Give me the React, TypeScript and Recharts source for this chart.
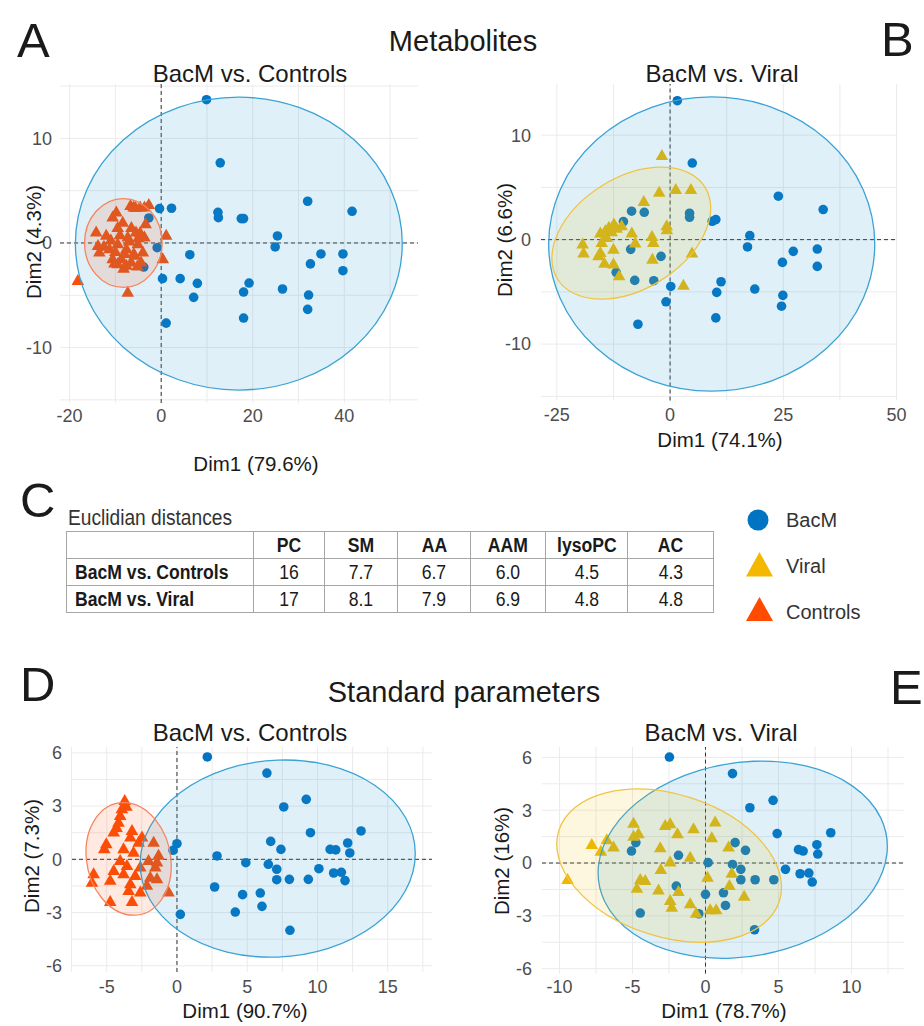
import React from 'react';
import { ScatterChart, Scatter, XAxis, YAxis, CartesianGrid, ReferenceLine } from 'recharts';

type P = { x: number; y: number };

// ---------- Panel A : Metabolites, BacM vs. Controls ----------
const aBacM: P[] = [
  { x: 9.9, y: 13.7 }, { x: 12.9, y: 7.66 }, { x: -0.36, y: 3.29 }, { x: 2.26, y: 3.32 }, { x: -2.7, y: 2.39 },
  { x: 12.4, y: 2.93 }, { x: 12.5, y: 2.42 }, { x: 17.5, y: 2.33 }, { x: 18.0, y: 2.33 }, { x: 32.0, y: 3.99 },
  { x: 41.7, y: 3.03 }, { x: 25.4, y: 0.67 }, { x: 24.9, y: -0.38 }, { x: -0.87, y: -0.45 }, { x: 6.26, y: -1.12 },
  { x: 34.9, y: -1.05 }, { x: 39.7, y: -1.05 }, { x: 32.6, y: -2.0 }, { x: 39.7, y: -2.65 }, { x: -3.8, y: -2.3 },
  { x: 0.29, y: -3.41 }, { x: 4.15, y: -3.41 }, { x: 7.9, y: -3.86 }, { x: 19.2, y: -3.83 }, { x: 18.0, y: -4.69 },
  { x: 26.5, y: -4.4 }, { x: 7.1, y: -5.2 }, { x: 32.2, y: -4.98 }, { x: 32.0, y: -6.35 }, { x: 1.09, y: -7.66 },
  { x: 18.0, y: -7.18 },
];
const aControls: P[] = [
  { x: -6.7, y: 3.6 }, { x: -6.0, y: 3.45 }, { x: -5.6, y: 3.39 }, { x: -4.6, y: 3.45 }, { x: -3.65, y: 3.45 },
  { x: -2.7, y: 3.7 }, { x: -9.8, y: 2.97 }, { x: -10.6, y: 2.49 }, { x: -8.4, y: 2.0 }, { x: -14.2, y: 1.05 },
  { x: -3.4, y: 1.85 }, { x: 1.1, y: 0.74 }, { x: -12.0, y: 0.74 }, { x: -5.5, y: 1.05 }, { x: -7.3, y: 0.57 },
  { x: -13.8, y: -0.22 }, { x: -13.5, y: -0.86 }, { x: -11.3, y: -0.54 }, { x: -9.5, y: -0.06 }, { x: -7.6, y: -0.54 },
  { x: -5.1, y: -0.06 }, { x: -3.65, y: 0.57 }, { x: -4.0, y: -0.86 }, { x: -8.7, y: -1.49 }, { x: -9.5, y: -1.97 },
  { x: -7.6, y: -2.13 }, { x: -6.55, y: -1.81 }, { x: -4.4, y: -1.81 }, { x: -5.8, y: -1.17 }, { x: -10.6, y: -1.49 },
  { x: 0.35, y: -1.49 }, { x: -18.2, y: -3.57 }, { x: -7.3, y: -4.69 }, { x: -11.0, y: 0.3 }, { x: -10.0, y: -0.8 },
  { x: -9.0, y: 0.8 }, { x: -8.0, y: -1.0 }, { x: -7.0, y: 0.2 }, { x: -6.0, y: -1.0 }, { x: -5.0, y: 0.5 },
  { x: -9.5, y: 1.5 }, { x: -6.5, y: 1.5 }, { x: -12.5, y: -0.3 }, { x: -10.2, y: -1.9 }, { x: -8.2, y: -2.4 },
  { x: -5.2, y: -2.2 }, { x: -4.6, y: 1.0 },
];
// ellipse = [centre, end of first semi-axis, end of second semi-axis]
const aEllBacM: P[] = [{ x: 16.96, y: -0.06 }, { x: 52.66, y: -0.06 }, { x: 16.96, y: 13.94 }];
const aEllControls: P[] = [{ x: -8.26, y: 0 }, { x: 0.22, y: 0 }, { x: -8.26, y: 4.25 }];

// ---------- Panel B : Metabolites, BacM vs. Viral ----------
const bBacM: P[] = [
  { x: 1.6, y: 13.3 }, { x: 4.9, y: 7.33 }, { x: 23.9, y: 4.16 }, { x: 33.8, y: 2.88 }, { x: -8.5, y: 2.72 },
  { x: -5.7, y: 2.62 }, { x: 4.3, y: 2.53 }, { x: 4.3, y: 2.14 }, { x: 9.3, y: 1.76 }, { x: 10.1, y: 1.92 },
  { x: -10.3, y: 1.73 }, { x: 17.6, y: 0.38 }, { x: 17.1, y: -0.7 }, { x: 27.2, y: -1.12 }, { x: 32.5, y: -0.9 },
  { x: 24.8, y: -2.18 }, { x: 32.5, y: -2.56 }, { x: -8.7, y: -0.93 }, { x: -2.0, y: -1.6 }, { x: -11.9, y: -3.13 },
  { x: -7.8, y: -3.9 }, { x: -3.6, y: -3.93 }, { x: 0.15, y: -4.48 }, { x: 11.25, y: -4.03 }, { x: 10.3, y: -5.05 },
  { x: 18.7, y: -4.73 }, { x: 24.9, y: -5.34 }, { x: 24.6, y: -6.37 }, { x: -0.9, y: -5.95 }, { x: -7.1, y: -8.1 },
  { x: 10.1, y: -7.49 },
];
const bViral: P[] = [
  { x: -1.8, y: 8.06 }, { x: -2.4, y: 4.54 }, { x: 1.25, y: 4.8 }, { x: 4.6, y: 4.8 }, { x: -5.8, y: 3.65 },
  { x: -0.74, y: 1.34 }, { x: -0.7, y: 0.96 }, { x: -12.4, y: 1.5 }, { x: -10.7, y: 1.34 }, { x: -14.3, y: 0.86 },
  { x: -15.4, y: 0.64 }, { x: -12.9, y: 0.77 }, { x: -8.45, y: 0.64 }, { x: -4.0, y: 0.32 }, { x: -3.7, y: -0.26 },
  { x: -7.7, y: -0.32 }, { x: -19.3, y: -0.41 }, { x: -19.1, y: -1.28 }, { x: -15.1, y: -0.26 }, { x: -15.4, y: -1.22 },
  { x: -12.5, y: -0.9 }, { x: -15.8, y: -1.54 }, { x: -14.5, y: -2.24 }, { x: -12.5, y: -2.33 }, { x: -11.25, y: -3.45 },
  { x: -3.9, y: -1.86 }, { x: 4.85, y: -1.28 }, { x: 2.95, y: -4.35 }, { x: -14.0, y: 0.22 }, { x: -11.8, y: 1.1 },
  { x: -13.5, y: 1.2 },
];
const bEllBacM: P[] = [{ x: 9.19, y: -0.42 }, { x: 45.19, y: -0.42 }, { x: 9.19, y: 13.66 }];
const bEllViral: P[] = [{ x: -8.57, y: 0.62 }, { x: 7.73, y: 5.01 }, { x: -15.03, y: 5.16 }];

// ---------- Panel D : Standard parameters, BacM vs. Controls ----------
const dBacM: P[] = [
  { x: 2.16, y: 5.77 }, { x: 6.4, y: 4.86 }, { x: 9.2, y: 3.38 }, { x: 7.6, y: 2.95 }, { x: 13.1, y: 1.6 },
  { x: 9.5, y: 1.5 }, { x: 6.67, y: 1.01 }, { x: 7.4, y: 0.56 }, { x: 12.15, y: 0.92 }, { x: 10.9, y: 0.56 },
  { x: 11.3, y: 0.53 }, { x: 12.3, y: 0.36 }, { x: 0.0, y: 0.88 }, { x: -0.28, y: 0.51 }, { x: 2.85, y: 0.19 },
  { x: 4.9, y: -0.19 }, { x: 6.5, y: -0.28 }, { x: 7.1, y: -0.56 }, { x: 10.1, y: -0.53 }, { x: 11.15, y: -0.77 },
  { x: 11.7, y: -0.73 }, { x: 7.1, y: -1.15 }, { x: 8.0, y: -1.13 }, { x: 9.35, y: -1.13 }, { x: 11.96, y: -1.2 },
  { x: 2.68, y: -1.56 }, { x: 4.67, y: -1.99 }, { x: 5.93, y: -1.9 }, { x: 6.05, y: -2.65 }, { x: 4.15, y: -2.97 },
  { x: 0.24, y: -3.1 }, { x: 8.04, y: -4.0 },
];
const dControls: P[] = [
  { x: -3.72, y: 3.32 }, { x: -3.92, y: 2.85 }, { x: -4.04, y: 2.48 }, { x: -4.16, y: 2.1 }, { x: -4.5, y: 1.54 },
  { x: -5.03, y: 0.88 }, { x: -5.17, y: 0.6 }, { x: -3.2, y: 1.63 }, { x: -3.32, y: 1.26 }, { x: -2.49, y: 1.26 },
  { x: -2.73, y: 0.97 }, { x: -1.66, y: 0.97 }, { x: -3.8, y: 0.6 }, { x: -3.09, y: 0.41 }, { x: -1.31, y: 0.23 },
  { x: -2.02, y: -0.06 }, { x: -4.04, y: -0.06 }, { x: -3.56, y: -0.34 }, { x: -2.61, y: -0.43 }, { x: -1.54, y: -0.43 },
  { x: -4.5, y: -0.62 }, { x: -5.93, y: -0.81 }, { x: -6.05, y: -1.28 }, { x: -3.8, y: -0.81 }, { x: -2.97, y: -0.9 },
  { x: -1.9, y: -1.0 }, { x: -1.42, y: -1.09 }, { x: -4.75, y: -1.18 }, { x: -3.32, y: -1.37 }, { x: -2.14, y: -1.46 },
  { x: -3.44, y: -1.75 }, { x: -2.61, y: -1.84 }, { x: -0.6, y: -1.84 }, { x: -4.75, y: -2.37 }, { x: -3.2, y: -2.37 },
  { x: -1.42, y: -0.15 }, { x: -4.3, y: 1.8 }, { x: -3.6, y: 3.0 },
];
const dEllBacM: P[] = [{ x: 7.17, y: 0.04 }, { x: 16.96, y: 0.32 }, { x: 7.17, y: 5.59 }];
const dEllControls: P[] = [{ x: -3.44, y: 0.02 }, { x: -0.43, y: 0.02 }, { x: -3.8, y: 3.19 }];

// ---------- Panel E : Standard parameters, BacM vs. Viral ----------
const eBacM: P[] = [
  { x: -2.47, y: 6.02 }, { x: 1.85, y: 5.08 }, { x: 4.63, y: 3.56 }, { x: 3.04, y: 3.14 }, { x: 8.58, y: 1.72 },
  { x: 4.91, y: 1.67 }, { x: 2.03, y: 1.16 }, { x: 2.74, y: 0.72 }, { x: 7.63, y: 1.04 }, { x: 6.37, y: 0.76 },
  { x: 6.69, y: 0.68 }, { x: 7.69, y: 0.51 }, { x: -4.77, y: 1.16 }, { x: -5.07, y: 0.68 }, { x: -1.85, y: 0.44 },
  { x: 0.18, y: 0.02 }, { x: 1.85, y: -0.08 }, { x: 2.42, y: -0.36 }, { x: 5.48, y: -0.36 }, { x: 6.48, y: -0.61 },
  { x: 7.08, y: -0.57 }, { x: 2.42, y: -0.95 }, { x: 3.4, y: -0.95 }, { x: 4.68, y: -0.95 }, { x: 7.31, y: -1.08 },
  { x: -2.0, y: -1.31 }, { x: 0.0, y: -1.78 }, { x: 1.23, y: -1.69 }, { x: 1.37, y: -2.41 }, { x: -0.46, y: -2.88 },
  { x: -4.47, y: -2.84 }, { x: 3.36, y: -3.79 },
];
const eViral: P[] = [
  { x: -4.93, y: 2.27 }, { x: -2.76, y: 2.14 }, { x: -2.42, y: 2.23 }, { x: 0.66, y: 2.33 }, { x: -0.82, y: 1.95 },
  { x: -1.92, y: 1.67 }, { x: -4.59, y: 1.67 }, { x: -4.93, y: 1.52 }, { x: 0.43, y: 1.44 }, { x: -7.79, y: 1.06 },
  { x: -6.76, y: 1.33 }, { x: -6.3, y: 0.91 }, { x: -7.17, y: 0.68 }, { x: -3.1, y: 0.87 }, { x: 1.58, y: 0.91 },
  { x: -1.05, y: 0.34 }, { x: -2.42, y: 0.06 }, { x: -3.06, y: -0.36 }, { x: -9.45, y: -0.93 }, { x: 0.14, y: -0.8 },
  { x: 1.8, y: -0.57 }, { x: -4.47, y: -0.93 }, { x: -4.13, y: -0.98 }, { x: -4.7, y: -1.42 }, { x: -3.22, y: -1.52 },
  { x: -1.85, y: -1.61 }, { x: 1.64, y: -1.27 }, { x: 2.65, y: -1.88 }, { x: -2.42, y: -2.12 }, { x: -2.31, y: -2.5 },
  { x: -1.05, y: -2.31 }, { x: -0.64, y: -2.84 }, { x: 0.32, y: -2.65 }, { x: 0.73, y: -2.65 },
];
const eEllBacM: P[] = [{ x: 2.55, y: 0.19 }, { x: 12.43, y: 0.53 }, { x: 3.28, y: 5.78 }];
const eEllViral: P[] = [{ x: -2.49, y: -0.15 }, { x: 5.06, y: -2.17 }, { x: -3.99, y: -4.0 }];

// ---------- Table C ----------
const tableColumns = ['PC', 'SM', 'AA', 'AAM', 'lysoPC', 'AC'];
const tableRows = ['BacM vs. Controls', 'BacM vs. Viral'];
const tableControls = ['16', '7.7', '6.7', '6.0', '4.5', '4.3'];
const tableViral = ['17', '8.1', '7.9', '6.9', '4.8', '4.8'];

// ---------- Legend ----------
const legendLabels = ['BacM', 'Viral', 'Controls'];

// ---------- Ticks ----------
const aXTicks = [-20, 0, 20, 40];
const aYTicks = [-10, 0, 10];
const bXTicks = [-25, 0, 25, 50];
const bYTicks = [-10, 0, 10];
const dXTicks = [-5, 0, 5, 10, 15];
const dYTicks = [-6, -3, 0, 3, 6];
const eXTicks = [-10, -5, 0, 5, 10];
const eYTicks = [-6, -3, 0, 3, 6];

const BLUE = '#0073C2';
const BLUE_LINE = '#3AA3D4';
const BLUE_FILL = '#2E9AD0';
const YELLOW = '#EDB800';
const YELLOW_LINE = '#F0C443';
const YELLOW_FILL = '#EFC000';
const ORANGE = '#FC4E07';
const ORANGE_LINE = '#F7845E';
const ORANGE_FILL = '#FC4E07';

const FONT = "'Liberation Sans', Arial, Helvetica, sans-serif";

const YW = 50;
const XH = 32;
const MT = 14;
const MR = 22;

const circleShape = (color: string) => (p: any) => (
  <circle cx={p.cx} cy={p.cy} r={4.8} fill={color} />
);
const triShape = (color: string) => (p: any) => {
  const cx = p.cx, cy = p.cy;
  return <path d={`M${cx},${cy - 6.4}L${cx + 6.3},${cy + 4.6}L${cx - 6.3},${cy + 4.6}Z`} fill={color} />;
};
const noShape = () => <g />;

function ellipseLine(stroke: string, fill: string, fillOpacity: number) {
  return (props: any) => {
    const pts = props.points as { x: number; y: number }[];
    if (!pts || pts.length < 3) return <g />;
    const [c, u, v] = pts;
    return (
      <circle
        cx={0}
        cy={0}
        r={1}
        transform={`matrix(${u.x - c.x} ${u.y - c.y} ${v.x - c.x} ${v.y - c.y} ${c.x} ${c.y})`}
        fill={fill}
        fillOpacity={fillOpacity}
        stroke={stroke}
        strokeWidth={1.3}
        vectorEffect="non-scaling-stroke"
      />
    );
  };
}

type PanelProps = {
  left: number; top: number; w: number; h: number;
  xDomain: [number, number]; yDomain: [number, number];
  xTicks: number[]; yTicks: number[]; xGrid: number[]; yGrid: number[];
  xGap: number; yGap: number;
  bacm: P[]; other: P[]; otherColor: string;
  ellBacm: P[]; ellOther: P[]; otherLine: string; otherFill: string;
};

function Panel(pp: PanelProps) {
  const W = pp.w + YW + MR;
  const H = pp.h + XH + MT;
  const tick = { fill: '#4D4D4D', fontSize: 18, fontFamily: FONT };
  return (
    <div style={{ position: 'absolute', left: pp.left - YW, top: pp.top - MT, width: W, height: H }}>
      <ScatterChart width={W} height={H} margin={{ top: MT, right: MR, bottom: 0, left: 0 }}>
        <CartesianGrid stroke="#EBEBEB" strokeWidth={1} horizontalValues={pp.yGrid} verticalValues={pp.xGrid} />
        <XAxis
          type="number" dataKey="x" domain={pp.xDomain} ticks={pp.xTicks} allowDataOverflow interval={0}
          axisLine={false} tickLine={false} tickSize={0} tickMargin={pp.xGap} height={XH} tick={tick}
        />
        <YAxis
          type="number" dataKey="y" domain={pp.yDomain} ticks={pp.yTicks} allowDataOverflow interval={0}
          axisLine={false} tickLine={false} tickSize={0} tickMargin={pp.yGap} width={YW} tick={tick}
        />
        <ReferenceLine x={0} stroke="#333333" strokeWidth={1} strokeDasharray="4 3" />
        <ReferenceLine y={0} stroke="#333333" strokeWidth={1} strokeDasharray="4 3" />
        <Scatter data={pp.bacm} shape={circleShape(BLUE)} isAnimationActive={false} />
        <Scatter data={pp.other} shape={triShape(pp.otherColor)} isAnimationActive={false} />
        <Scatter data={pp.ellBacm} shape={noShape} line={ellipseLine(BLUE_LINE, BLUE_FILL, 0.15)} isAnimationActive={false} />
        <Scatter data={pp.ellOther} shape={noShape} line={ellipseLine(pp.otherLine, pp.otherFill, 0.12)} isAnimationActive={false} />
      </ScatterChart>
    </div>
  );
}

function Overlay() {
  const big = { fontFamily: FONT, fontSize: 49, fill: '#1A1A1A' };
  const section = { fontFamily: FONT, fontSize: 29, fill: '#1A1A1A' };
  const sub = { fontFamily: FONT, fontSize: 24, fill: '#1A1A1A' };
  const axis = { fontFamily: FONT, fontSize: 20.5, fill: '#1A1A1A' };
  const leg = { fontFamily: FONT, fontSize: 20, fill: '#333333' };
  return (
    <svg width={924} height={1026} style={{ position: 'absolute', left: 0, top: 0, pointerEvents: 'none' }}>
      <text x={17} y={57} {...big}>A</text>
      <text x={881} y={56} {...big}>B</text>
      <text x={20} y={517} {...big}>C</text>
      <text x={20} y={701} {...big}>D</text>
      <text x={890} y={704} {...big}>E</text>

      <text x={463} y={51} textAnchor="middle" {...section}>Metabolites</text>
      <text x={464} y={702} textAnchor="middle" {...section}>Standard parameters</text>

      <text x={250} y={82} textAnchor="middle" {...sub}>BacM vs. Controls</text>
      <text x={722} y={82} textAnchor="middle" {...sub}>BacM vs. Viral</text>
      <text x={250} y={741} textAnchor="middle" {...sub}>BacM vs. Controls</text>
      <text x={721} y={741} textAnchor="middle" {...sub}>BacM vs. Viral</text>

      <text x={256} y={471} textAnchor="middle" {...axis}>Dim1 (79.6%)</text>
      <text x={720} y={447} textAnchor="middle" {...axis}>Dim1 (74.1%)</text>
      <text x={245} y={1018} textAnchor="middle" {...axis}>Dim1 (90.7%)</text>
      <text x={724} y={1018} textAnchor="middle" {...axis}>Dim1 (78.7%)</text>
      <text transform="translate(41,242) rotate(-90)" textAnchor="middle" {...axis}>Dim2 (4.3%)</text>
      <text transform="translate(512,240) rotate(-90)" textAnchor="middle" {...axis}>Dim2 (6.6%)</text>
      <text transform="translate(39,856) rotate(-90)" textAnchor="middle" {...axis}>Dim2 (7.3%)</text>
      <text transform="translate(509,861) rotate(-90)" textAnchor="middle" {...axis}>Dim2 (16%)</text>

      <text x={68} y={525} fontFamily={FONT} fontSize={22} fill="#333333" textLength={164} lengthAdjust="spacingAndGlyphs">Euclidian distances</text>

      <circle cx={758} cy={520} r={10.5} fill={BLUE} />
      <path d="M759.5,552L773,576.5L746,576.5Z" fill="#F5B800" />
      <path d="M759.5,597L773,621L746,621Z" fill="#FF4B00" />
      <text x={786} y={527} {...leg}>{legendLabels[0]}</text>
      <text x={786} y={573} {...leg}>{legendLabels[1]}</text>
      <text x={786} y={619} {...leg}>{legendLabels[2]}</text>
    </svg>
  );
}

function Cond({ children, origin }: { children: React.ReactNode; origin: string }) {
  return (
    <span style={{ display: 'inline-block', transform: 'scaleX(0.88)', transformOrigin: origin, whiteSpace: 'nowrap' }}>
      {children}
    </span>
  );
}

function DistTable() {
  const colW = [187, 71, 73, 73, 75, 82, 86];
  const cell: React.CSSProperties = {
    border: '1px solid #A6A6A6', height: 26, padding: 0, textAlign: 'center', whiteSpace: 'nowrap',
    fontFamily: FONT, fontSize: 20, color: '#1A1A1A', lineHeight: '26px', overflow: 'hidden',
  };
  const rows = [tableControls, tableViral];
  return (
    <table style={{ position: 'absolute', left: 66, top: 531, width: 647, borderCollapse: 'collapse', tableLayout: 'fixed' }}>
      <colgroup>
        {colW.map((w, i) => <col key={i} style={{ width: w }} />)}
      </colgroup>
      <tbody>
        <tr>
          <td style={cell}></td>
          {tableColumns.map((c) => (
            <td key={c} style={{ ...cell, fontWeight: 700 }}><Cond origin="center">{c}</Cond></td>
          ))}
        </tr>
        {tableRows.map((r, ri) => (
          <tr key={r}>
            <td style={{ ...cell, fontWeight: 700, textAlign: 'left', paddingLeft: 8 }}><Cond origin="left">{r}</Cond></td>
            {rows[ri].map((v, ci) => <td key={ci} style={cell}><Cond origin="center">{v}</Cond></td>)}
          </tr>
        ))}
      </tbody>
    </table>
  );
}

export default function App() {
  return (
    <div style={{ position: 'absolute', left: 0, top: 0, width: 924, height: 1026, background: '#FFFFFF', overflow: 'hidden' }}>
      <Panel
        left={60} top={84} w={358} h={319}
        xDomain={[-22.1, 56.1]} yDomain={[-15.3, 15.2]}
        xTicks={aXTicks} yTicks={aYTicks}
        xGrid={[-20, -10, 0, 10, 20, 30, 40, 50]} yGrid={[-15, -10, -5, 0, 5, 10, 15]}
        xGap={6} yGap={8}
        bacm={aBacM} other={aControls} otherColor={ORANGE}
        ellBacm={aEllBacM} ellOther={aEllControls} otherLine={ORANGE_LINE} otherFill={ORANGE_FILL}
      />
      <Panel
        left={541} top={84} w={356} h={316.5}
        xDomain={[-28.5, 50.1]} yDomain={[-15.4, 14.9]}
        xTicks={bXTicks} yTicks={bYTicks}
        xGrid={[-25, -12.5, 0, 12.5, 25, 37.5, 50]} yGrid={[-15, -10, -5, 0, 5, 10]}
        xGap={8} yGap={10}
        bacm={bBacM} other={bViral} otherColor={YELLOW}
        ellBacm={bEllBacM} ellOther={bEllViral} otherLine={YELLOW_LINE} otherFill={YELLOW_FILL}
      />
      <Panel
        left={71.7} top={746.7} w={360} h={225}
        xDomain={[-7.47, 18.15]} yDomain={[-6.35, 6.33]}
        xTicks={dXTicks} yTicks={dYTicks}
        xGrid={[-7.5, -5, -2.5, 0, 2.5, 5, 7.5, 10, 12.5, 15, 17.5]} yGrid={[-6, -4.5, -3, -1.5, 0, 1.5, 3, 4.5, 6]}
        xGap={8} yGap={10}
        bacm={dBacM} other={dControls} otherColor={ORANGE}
        ellBacm={dEllBacM} ellOther={dEllControls} otherLine={ORANGE_LINE} otherFill={ORANGE_FILL}
      />
      <Panel
        left={541.7} top={746.7} w={361.6} h={226.6}
        xDomain={[-11.2, 13.57]} yDomain={[-6.28, 6.59]}
        xTicks={eXTicks} yTicks={eYTicks}
        xGrid={[-10, -7.5, -5, -2.5, 0, 2.5, 5, 7.5, 10, 12.5]} yGrid={[-6, -4.5, -3, -1.5, 0, 1.5, 3, 4.5, 6]}
        xGap={7} yGap={10}
        bacm={eBacM} other={eViral} otherColor={YELLOW}
        ellBacm={eEllBacM} ellOther={eEllViral} otherLine={YELLOW_LINE} otherFill={YELLOW_FILL}
      />
      <DistTable />
      <Overlay />
    </div>
  );
}
